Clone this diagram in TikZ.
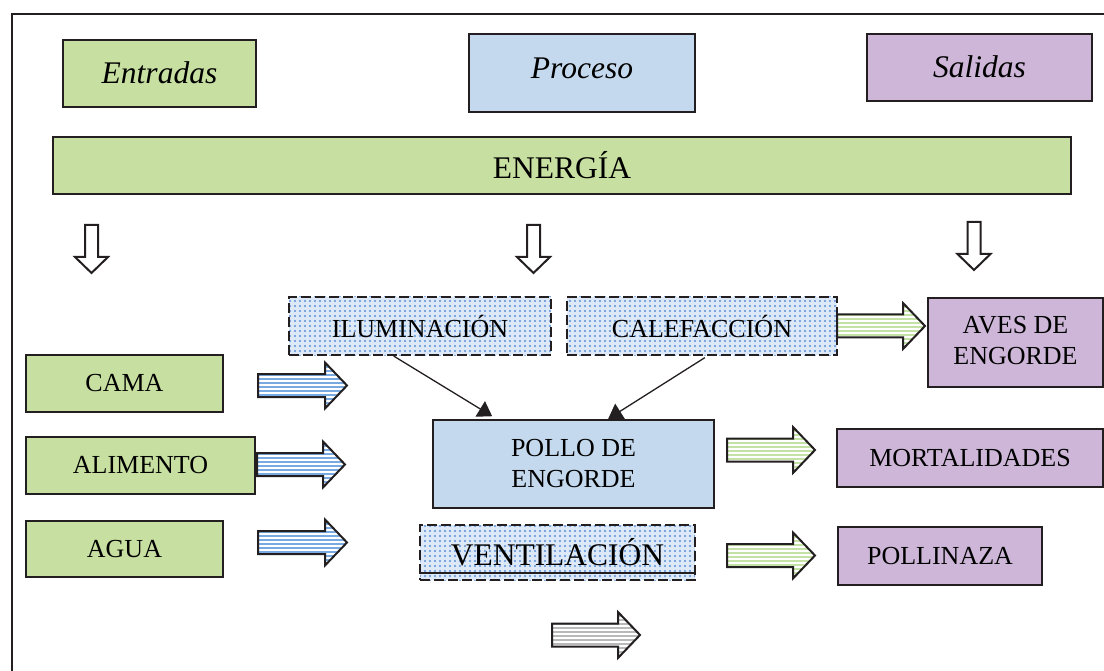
\documentclass[tikz,border=0pt]{standalone}
\usepackage{fontspec}
\setmainfont{Liberation Serif}
\usetikzlibrary{arrows.meta,patterns,calc}
\definecolor{cgreen}{RGB}{199,223,160}
\definecolor{cblue}{RGB}{197,217,238}
\definecolor{cpurple}{RGB}{205,182,216}
\definecolor{cline}{RGB}{35,31,32}
\definecolor{dotbg}{RGB}{222,233,247}
\definecolor{dotfg}{RGB}{90,145,215}
\definecolor{stripeblue}{RGB}{120,170,225}
\definecolor{stripegreen}{RGB}{196,225,166}
\definecolor{stripegrey}{RGB}{185,185,185}
\pgfdeclarepatternformonly{bigdots}{\pgfqpoint{-1.5pt}{-1.5pt}}{\pgfqpoint{1.5pt}{1.5pt}}{\pgfqpoint{5pt}{5pt}}{\pgfpathcircle{\pgfqpoint{0pt}{0pt}}{1.1pt}\pgfusepath{fill}}
% fat right arrow: #1 stripe colour, #2 x0, #3 x1, #4 y centre
\newcommand{\rarr}[4]{%
  \fill[white] (#2,#4-11.5) -- (#3-22,#4-11.5) -- (#3-22,#4-23) -- (#3,#4) -- (#3-22,#4+23) -- (#3-22,#4+11.5) -- (#2,#4+11.5) -- cycle;
  \begin{scope}
    \clip (#2,#4-11.5) -- (#3-22,#4-11.5) -- (#3-22,#4-23) -- (#3,#4) -- (#3-22,#4+23) -- (#3-22,#4+11.5) -- (#2,#4+11.5) -- cycle;
    \foreach \k in {-24,-20,...,24} {\fill[#1] (#2,#4+\k) rectangle (#3,#4+\k+2.2);}
  \end{scope}
  \draw[fatarrow] (#2,#4-11.5) -- (#3-22,#4-11.5) -- (#3-22,#4-23) -- (#3,#4) -- (#3-22,#4+23) -- (#3-22,#4+11.5) -- (#2,#4+11.5) -- cycle;}
\newcommand{\darr}[3]{%
  \draw[hollowarrow] (#1-6.5,#2) -- (#1+6.5,#2) -- (#1+6.5,#3-16) -- (#1+16.5,#3-16) -- (#1,#3) -- (#1-16.5,#3-16) -- (#1-6.5,#3-16) -- cycle;}
\tikzset{
  box/.style={draw=cline, line width=1.3pt, inner sep=0pt, align=center, font=\fontsize{26pt}{31pt}\selectfont},
  head/.style={box, font=\fontsize{31.5pt}{36pt}\selectfont\itshape},
  dbox/.style={draw=cline, line width=2pt, dash pattern=on 10pt off 4pt, inner sep=0pt,
    preaction={fill=dotbg}, pattern=bigdots, pattern color=dotfg, align=center, font=\fontsize{26pt}{31pt}\selectfont},
  fatarrow/.style={draw=cline, line width=2pt, line join=miter},
  hollowarrow/.style={draw=cline, line width=2pt, line join=miter, fill=white},
  conn/.style={draw=cline, line width=1.3pt, -{Triangle[length=14pt,width=18pt]}}
}
\begin{document}
\begin{tikzpicture}[x=1pt,y=-1pt]
\useasboundingbox (0,0) rectangle (1104,671);
\clip (0,0) rectangle (1104,671);
% frame
\draw[cline, line width=2.2pt] (12,690) -- (12,14) -- (1120,14);
% header boxes
\node[head, fill=cgreen, minimum width=193pt, minimum height=67pt] (ent) at (159.5,73.5) {\raisebox{1pt}{Entradas}};
\node[head, fill=cblue, minimum width=226pt, minimum height=78pt] (proc) at (582,73) {\raisebox{9pt}{Proceso}};
\node[head, fill=cpurple, minimum width=225pt, minimum height=67pt] (sal) at (979.5,67.5) {\raisebox{1pt}{Salidas}};
\node[box, fill=cgreen, minimum width=1018pt, minimum height=57pt, font=\fontsize{31.5pt}{36pt}\selectfont] (ene) at (562,165.5) {ENERGÍA};
% down arrows
\darr{91.5}{225}{273}
\darr{533.5}{225}{273}
\darr{974}{222}{270}
% process boxes
\node[dbox, minimum width=262pt, minimum height=58pt] (ilu) at (420,326) {ILUMINACIÓN};
\node[dbox, minimum width=270pt, minimum height=58pt] (cal) at (702,326) {CALEFACCIÓN};
\node[box, fill=cblue, minimum width=281pt, minimum height=88pt] (pollo) at (573.5,464) {POLLO DE\\ENGORDE};
\node[dbox, minimum width=275pt, minimum height=55pt, font=\fontsize{31.5pt}{36pt}\selectfont] (vent) at (557.5,552.5) {VENTILACIÓN};
\draw[cline, line width=2.2pt] ($(vent.south west)+(0,-8)$) -- ($(vent.south east)+(0,-8)$);
% inputs
\node[box, fill=cgreen, minimum width=197pt, minimum height=57pt] (cama) at (124.5,383.5) {CAMA};
\node[box, fill=cgreen, minimum width=229pt, minimum height=57pt] (ali) at (140.5,465.5) {ALIMENTO};
\node[box, fill=cgreen, minimum width=197pt, minimum height=56pt] (agua) at (124.5,549) {AGUA};
% outputs
\node[box, fill=cpurple, minimum width=175pt, minimum height=89pt] (aves) at (1015.5,342.5) {\raisebox{2pt}{\begin{tabular}{@{}c@{}}AVES DE\\ENGORDE\end{tabular}}};
\node[box, fill=cpurple, minimum width=266pt, minimum height=58pt] (mort) at (970,458) {MORTALIDADES};
\node[box, fill=cpurple, minimum width=204pt, minimum height=58pt] (polli) at (940,556) {POLLINAZA};
% fat arrows
\rarr{stripeblue}{258}{347}{385.5}
\rarr{stripeblue}{257}{345}{464.5}
\rarr{stripeblue}{258}{347}{542.5}
\rarr{stripegreen}{837}{925}{326}
\rarr{stripegreen}{727}{815}{450}
\rarr{stripegreen}{727}{815}{555.5}
\rarr{stripegrey}{552}{640}{635}
% connectors
\draw[conn, shorten >=6pt] ($(ilu.south west)!0.4!(ilu.south east)$) -- ($(pollo.north west)!0.23!(pollo.north east)$);
\draw[conn, shorten <=3pt, shorten >=1pt] ($(cal.south west)!0.52!(cal.south east)$) -- ($(pollo.north west)!0.62!(pollo.north east)$);
\end{tikzpicture}
\end{document}
